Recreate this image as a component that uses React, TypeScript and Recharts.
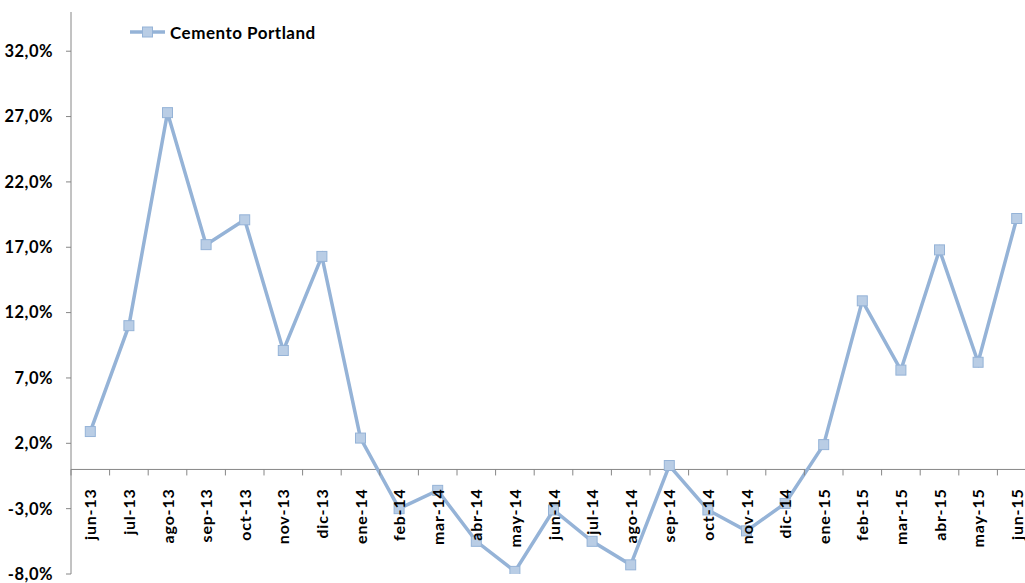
import { LineChart, Line, XAxis, YAxis, ReferenceLine } from 'recharts'

// ─── Data ──────────────────────────────────────────────────────────────────
const MONTHS = [
  'jun-13', 'jul-13', 'ago-13', 'sep-13', 'oct-13', 'nov-13', 'dic-13',
  'ene-14', 'feb-14', 'mar-14', 'abr-14', 'may-14', 'jun-14', 'jul-14',
  'ago-14', 'sep-14', 'oct-14', 'nov-14', 'dic-14', 'ene-15', 'feb-15',
  'mar-15', 'abr-15', 'may-15', 'jun-15',
]

const CEMENTO = [
  2.9, 11.0, 27.3, 17.2, 19.1, 9.1, 16.3,
  2.4, -3.0, -1.6, -5.5, -7.8, -3.1, -5.5,
  -7.3, 0.3, -3.1, -4.7, -2.6, 1.9, 12.9,
  7.6, 16.8, 8.2, 19.2,
]

const Y_TICKS = [-8, -3, 2, 7, 12, 17, 22, 27, 32]
const Y_MIN = -8
const Y_MAX = 35

const SERIES_NAME = 'Cemento Portland'

// ─── Layout ────────────────────────────────────────────────────────────────
const CHART_W = 1040
const CHART_H = 583
const MARGIN = { top: 12, right: 4, bottom: 8, left: 0 }
const Y_AXIS_W = 71
const X_AXIS_H = 1
const PLOT_H = CHART_H - MARGIN.top - MARGIN.bottom - X_AXIS_H
const PLOT_W = CHART_W - MARGIN.left - MARGIN.right - Y_AXIS_W
const STEP = PLOT_W / MONTHS.length
const ZERO_Y = MARGIN.top + ((Y_MAX - 0) / (Y_MAX - Y_MIN)) * PLOT_H

const LINE_COLOR = '#95b3d7'
const MARKER_FILL = '#b9cde5'
const AXIS_COLOR = '#868686'
const FONT = 'Lato, "Open Sans", sans-serif'

const chartData = MONTHS.map((m, i) => ({ mes: m, v: CEMENTO[i] }))

const fmtPct = (v: number) => `${v.toFixed(1).replace('.', ',')}%`

// eje x cruza en 0: marcas entre categorías, etiquetas giradas
function MonthTick(props: any) {
  const { x, payload } = props
  const left = x - STEP / 2
  return (
    <g>
      <line x1={left} x2={left} y1={ZERO_Y} y2={ZERO_Y + 6} stroke={AXIS_COLOR} strokeWidth={1} />
      <text
        x={0}
        y={0}
        transform={`translate(${x + 6}, ${ZERO_Y + 19}) rotate(-90)`}
        textAnchor="end"
        fontFamily={FONT}
        fontWeight={700}
        fontSize={16}
        letterSpacing={0.8}
        fill="#000"
      >
        {payload.value}
      </text>
    </g>
  )
}

function SquareDot(props: any) {
  const { cx, cy, index } = props
  if (cx == null || cy == null) return <g key={`d-${index}`} />
  return (
    <rect
      key={`d-${index}`}
      x={cx - 5}
      y={cy - 5}
      width={10}
      height={10}
      fill={MARKER_FILL}
      stroke={LINE_COLOR}
      strokeWidth={1}
    />
  )
}

export default function App() {
  return (
    <div
      style={{
        position: 'absolute',
        left: 0,
        top: 0,
        width: 1025,
        height: 583,
        overflow: 'hidden',
        background: '#fff',
      }}
    >
      <LineChart width={CHART_W} height={CHART_H} data={chartData} margin={MARGIN}>
        <YAxis
          width={Y_AXIS_W}
          domain={[Y_MIN, Y_MAX]}
          ticks={Y_TICKS}
          interval={0}
          allowDataOverflow
          tickFormatter={fmtPct}
          stroke={AXIS_COLOR}
          tickSize={5}
          tickMargin={13}
          tick={{ fill: '#000', fontFamily: FONT, fontWeight: 700, fontSize: 16.5, letterSpacing: 0.5 }}
        />
        <XAxis
          dataKey="mes"
          height={X_AXIS_H}
          axisLine={false}
          tickLine={false}
          interval={0}
          padding={{ left: STEP / 2, right: STEP / 2 }}
          tick={<MonthTick />}
        />
        <ReferenceLine y={0} stroke={AXIS_COLOR} strokeWidth={1} />
        <Line
          dataKey="v"
          name={SERIES_NAME}
          stroke={LINE_COLOR}
          strokeWidth={3.5}
          dot={SquareDot}
          activeDot={false}
          isAnimationActive={false}
        />
      </LineChart>
      {/* leyenda */}
      <div
        style={{
          position: 'absolute',
          left: 129,
          top: 21,
          display: 'flex',
          alignItems: 'center',
          fontFamily: FONT,
          fontWeight: 700,
          fontSize: 17,
          letterSpacing: 0.5,
          color: '#000',
        }}
      >
        <svg width={38} height={22}>
          <line x1={1} x2={36} y1={11} y2={11} stroke={LINE_COLOR} strokeWidth={3.5} />
          <rect x={13.5} y={6} width={10} height={10} fill={MARKER_FILL} stroke={LINE_COLOR} />
        </svg>
        <span style={{ marginLeft: 3 }}>{SERIES_NAME}</span>
      </div>
    </div>
  )
}
